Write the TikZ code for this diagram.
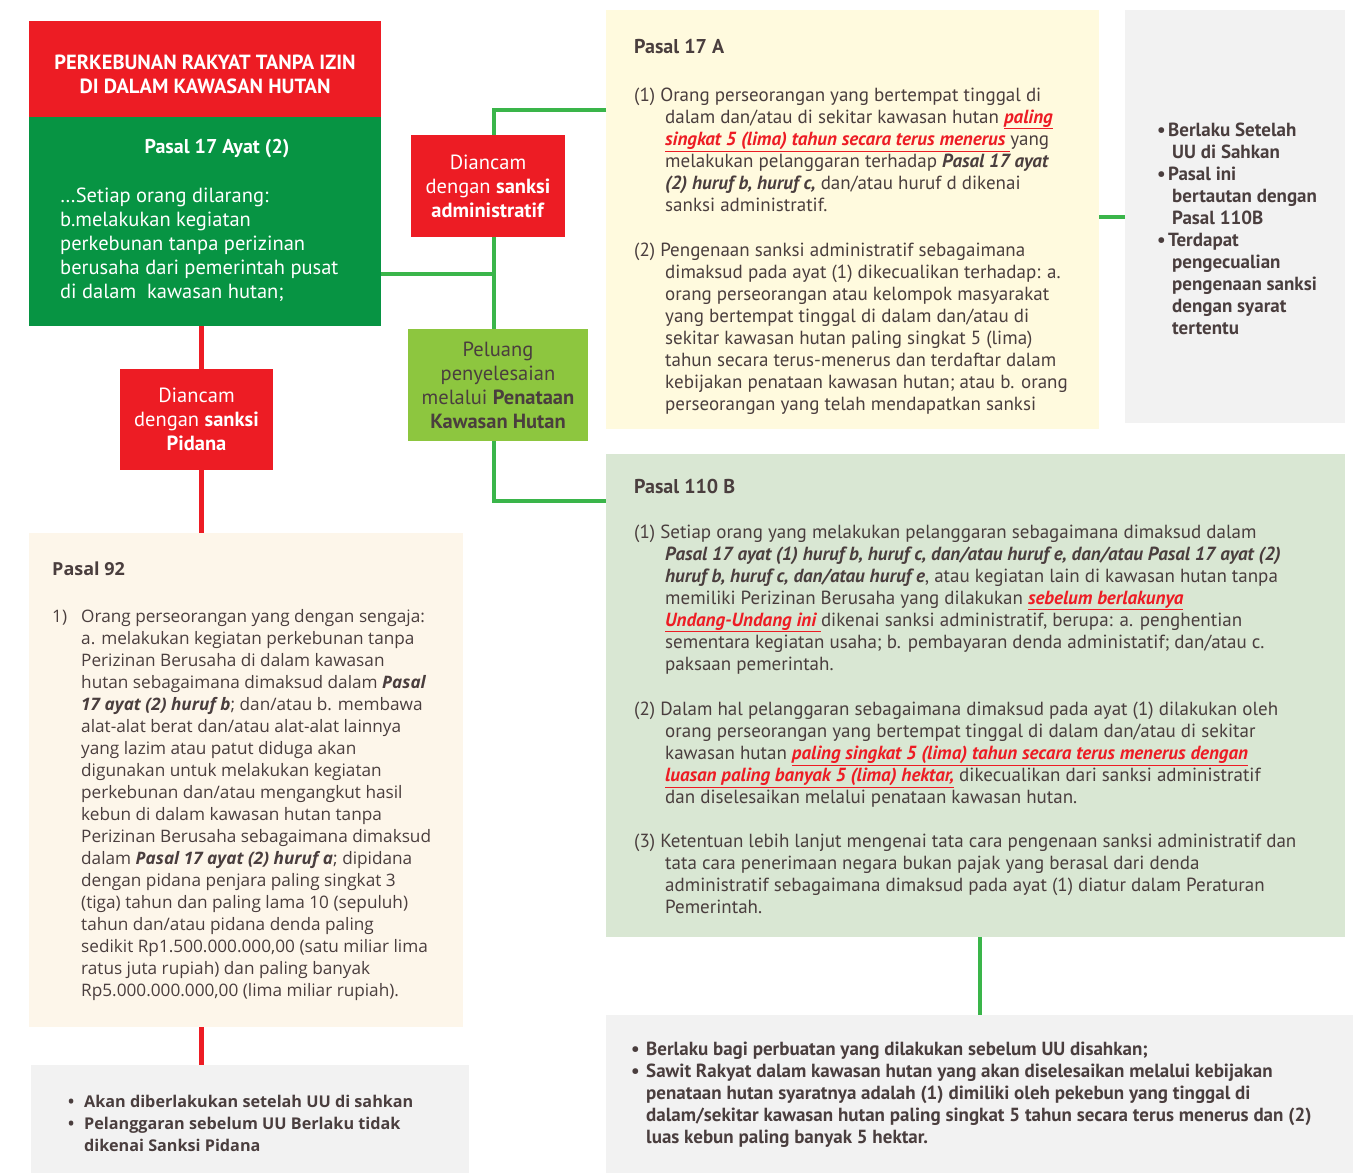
\documentclass[tikz,border=0pt]{standalone}
\usepackage{fontspec}
\setmainfont{PT Sans}
\newfontfamily\osans{Open Sans}
\usetikzlibrary{positioning}

\definecolor{merah}{HTML}{ED1C24}
\definecolor{hijau}{HTML}{079443}
\definecolor{hijaumuda}{HTML}{8DC63F}
\definecolor{garis}{HTML}{3AB54A}
\definecolor{kuning}{HTML}{FFFADE}
\definecolor{krem}{HTML}{FDF6EA}
\definecolor{hijaupucat}{HTML}{D9E7D3}
\definecolor{abu}{HTML}{F2F2F2}
\definecolor{teks}{HTML}{4A3E3E}

\newcommand{\garisbawah}[1]{{\color{merah}\bfseries\itshape\underline{#1}}}
\newcommand{\tebal}[1]{{\bfseries\itshape #1}}
\newcommand{\ind}[1][31pt]{\hspace*{#1}}
% first line strut: node top = first baseline - 20pt
\newcommand{\awal}{\rule{0pt}{20pt}}

\begin{document}
\begin{tikzpicture}[x=1pt,y=-1pt,
    kotak/.style={rectangle,anchor=north west,inner sep=0pt,outer sep=0pt},
    kotak label/.style={kotak,align=center,text=white,font=\fontsize{20.5}{24}\selectfont},
    isi/.style={anchor=north west,align=left,inner sep=0pt,text=teks,font=\fontsize{19}{22}\selectfont},
    garis hijau/.style={draw=garis,line width=4pt},
    garis merah/.style={draw=merah,line width=5pt}]

\useasboundingbox (0,0) rectangle (1358,1173);

% kiri atas
\node[kotak, fill=merah, minimum width=352pt, minimum height=96pt, align=center, text=white,
  font=\bfseries\fontsize{20.5}{24}\selectfont] (judul) at (29,21)
  {\rule{0pt}{25pt}PERKEBUNAN RAKYAT TANPA IZIN\\DI DALAM KAWASAN HUTAN};
\node[kotak, fill=hijau, minimum width=352pt, minimum height=209pt] (p17ay) at (29,117) {};
\node[anchor=base, inner sep=0pt, text=white, font=\bfseries\fontsize{20}{24}\selectfont]
  (j17ay) at (217,153) {Pasal 17 Ayat (2)};
\node[isi, text=white, font=\fontsize{20.5}{24}\selectfont] (t17ay) at (60,182)
  {\awal…Setiap orang dilarang:\\b.melakukan kegiatan\\perkebunan tanpa perizinan\\berusaha dari pemerintah pusat\\di dalam\ \ kawasan hutan;};

\node[kotak label, fill=merah, minimum width=154pt, minimum height=102pt] (admin) at (411,135)
  {Diancam\\dengan \textbf{sanksi}\\\textbf{administratif}};
\node[kotak label, fill=hijaumuda, text=teks, minimum width=180pt, minimum height=112pt] (peluang) at (408,329)
  {Peluang\\penyelesaian\\melalui \textbf{Penataan}\\\textbf{Kawasan Hutan}};
\node[kotak label, fill=merah, minimum width=153pt, minimum height=101pt] (pidana) at (120,369)
  {Diancam\\dengan \textbf{sanksi}\\\textbf{Pidana}};

% Pasal 17 A
\node[kotak, fill=kuning, minimum width=493pt, minimum height=419pt] (p17a) at (606,10) {};
\node[isi] (t17a) at (634,33) {\awal{\fontsize{20}{22}\selectfont\bfseries Pasal 17 A}\\[26pt]
(1) Orang perseorangan yang bertempat tinggal di\\
\ind dalam dan/atau di sekitar kawasan hutan \garisbawah{paling}\\
\ind\garisbawah{singkat 5 (lima) tahun secara terus menerus\ }yang\\
\ind melakukan pelanggaran terhadap \tebal{Pasal 17 ayat}\\
\ind\tebal{(2) huruf b, huruf c,} dan/atau huruf d dikenai\\
\ind sanksi administratif.\\[23pt]
(2) Pengenaan sanksi administratif sebagaimana\\
\ind dimaksud pada ayat (1) dikecualikan terhadap: a.\\
\ind orang perseorangan atau kelompok masyarakat\\
\ind yang bertempat tinggal di dalam dan/atau di\\
\ind sekitar kawasan hutan paling singkat 5 (lima)\\
\ind tahun secara terus-menerus dan terdaftar dalam\\
\ind kebijakan penataan kawasan hutan; atau b. orang\\
\ind perseorangan yang telah mendapatkan sanksi};

\node[kotak, fill=abu, minimum width=220pt, minimum height=413pt] (c17a) at (1125,10) {};
\node[isi, font=\bfseries\fontsize{19}{22}\selectfont] (tc17a) at (1157,116)
  {\awal\makebox[11pt][l]{•}Berlaku Setelah\\
   \ind[15pt]UU di Sahkan\\
   \makebox[11pt][l]{•}Pasal ini\\
   \ind[15pt]bertautan dengan\\
   \ind[15pt]Pasal 110B\\
   \makebox[11pt][l]{•}Terdapat\\
   \ind[15pt]pengecualian\\
   \ind[15pt]pengenaan sanksi\\
   \ind[15pt]dengan syarat\\
   \ind[15pt]tertentu};

% Pasal 110 B
\node[kotak, fill=hijaupucat, minimum width=739pt, minimum height=483pt] (p110b) at (606,454) {};
\node[isi] (t110b) at (634,473) {\awal{\fontsize{20}{22}\selectfont\bfseries Pasal 110 B}\\[23pt]
(1) Setiap orang yang melakukan pelanggaran sebagaimana dimaksud dalam\\
\ind\tebal{Pasal 17 ayat (1) huruf b, huruf c, dan/atau huruf e, dan/atau Pasal 17 ayat (2)}\\
\ind\tebal{huruf b, huruf c, dan/atau huruf e}, atau kegiatan lain di kawasan hutan tanpa\\
\ind memiliki Perizinan Berusaha yang dilakukan \garisbawah{sebelum berlakunya}\\
\ind\garisbawah{Undang-Undang ini\ }dikenai sanksi administratif, berupa: a. penghentian\\
\ind sementara kegiatan usaha; b. pembayaran denda administatif; dan/atau c.\\
\ind paksaan pemerintah.\\[23pt]
(2) Dalam hal pelanggaran sebagaimana dimaksud pada ayat (1) dilakukan oleh\\
\ind orang perseorangan yang bertempat tinggal di dalam dan/atau di sekitar\\
\ind kawasan hutan \garisbawah{paling singkat 5 (lima) tahun secara terus menerus dengan}\\
\ind\garisbawah{luasan paling banyak 5 (lima) hektar,} dikecualikan dari sanksi administratif\\
\ind dan diselesaikan melalui penataan kawasan hutan.\\[22pt]
(3) Ketentuan lebih lanjut mengenai tata cara pengenaan sanksi administratif dan\\
\ind tata cara penerimaan negara bukan pajak yang berasal dari denda\\
\ind administratif sebagaimana dimaksud pada ayat (1) diatur dalam Peraturan\\
\ind Pemerintah.};

\node[kotak, fill=abu, minimum width=747pt, minimum height=158pt] (c110b) at (606,1015) {};
\node[isi, font=\bfseries\fontsize{19}{22}\selectfont] (tc110b) at (631,1035)
  {\awal\makebox[15pt][l]{•}Berlaku bagi perbuatan yang dilakukan sebelum UU disahkan;\\
   \makebox[15pt][l]{•}Sawit Rakyat dalam kawasan hutan yang akan diselesaikan melalui kebijakan\\
   \ind[15pt]penataan hutan syaratnya adalah (1) dimiliki oleh pekebun yang tinggal di\\
   \ind[15pt]dalam/sekitar kawasan hutan paling singkat 5 tahun secara terus menerus dan (2)\\
   \ind[15pt]luas kebun paling banyak 5 hektar.};

% Pasal 92
\node[kotak, fill=krem, minimum width=434pt, minimum height=494pt] (p92) at (29,533) {};
\node[isi, font=\osans\fontsize{17.2}{22}\selectfont] (t92) at (52,555) {\awal{\fontsize{18}{22}\selectfont\bfseries Pasal 92}\\[25pt]
\makebox[29pt][l]{1)}Orang perseorangan yang dengan sengaja:\\
\ind[29pt]a. melakukan kegiatan perkebunan tanpa\\
\ind[29pt]Perizinan Berusaha di dalam kawasan\\
\ind[29pt]hutan sebagaimana dimaksud dalam \tebal{Pasal}\\
\ind[29pt]\tebal{17 ayat (2) huruf b}; dan/atau b. membawa\\
\ind[29pt]alat-alat berat dan/atau alat-alat lainnya\\
\ind[29pt]yang lazim atau patut diduga akan\\
\ind[29pt]digunakan untuk melakukan kegiatan\\
\ind[29pt]perkebunan dan/atau mengangkut hasil\\
\ind[29pt]kebun di dalam kawasan hutan tanpa\\
\ind[29pt]Perizinan Berusaha sebagaimana dimaksud\\
\ind[29pt]dalam \tebal{Pasal 17 ayat (2) huruf a}; dipidana\\
\ind[29pt]dengan pidana penjara paling singkat 3\\
\ind[29pt](tiga) tahun dan paling lama 10 (sepuluh)\\
\ind[29pt]tahun dan/atau pidana denda paling\\
\ind[29pt]sedikit Rp1.500.000.000,00 (satu miliar lima\\
\ind[29pt]ratus juta rupiah) dan paling banyak\\
\ind[29pt]Rp5.000.000.000,00 (lima miliar rupiah).};

\node[kotak, fill=abu, minimum width=438pt, minimum height=108pt] (c92) at (31,1065) {};
\node[isi, font=\osans\bfseries\fontsize{16.2}{22}\selectfont] (tc92) at (68,1087)
  {\awal\makebox[16pt][l]{•}Akan diberlakukan setelah UU di sahkan\\
   \makebox[16pt][l]{•}Pelanggaran sebelum UU Berlaku tidak\\
   \ind[16pt]dikenai Sanksi Pidana};

% penghubung
\coordinate (atas) at (494,110);
\coordinate (tengah) at (494,274);
\coordinate (bawah) at (494,501);
\coordinate (sumbu) at (201,0);

\draw[garis hijau] (p17a.west |- atas) -- (atas) -- (admin.north -| atas);
\draw[garis hijau] (admin.south -| atas) -- (peluang.north -| atas);
\draw[garis hijau] (peluang.south -| atas) -- (bawah) -- (p110b.west |- bawah);
\draw[garis hijau] (p17ay.east |- tengah) -- (tengah);
\draw[garis hijau] (p17a.east |- c17a.west) -- (c17a.west);
\draw[garis hijau] (p110b.south -| c110b.north) -- (c110b.north);

\draw[garis merah] (p17ay.south -| sumbu) -- (pidana.north -| sumbu);
\draw[garis merah] (pidana.south -| sumbu) -- (p92.north -| sumbu);
\draw[garis merah] (p92.south -| sumbu) -- (c92.north -| sumbu);
\end{tikzpicture}
\end{document}
